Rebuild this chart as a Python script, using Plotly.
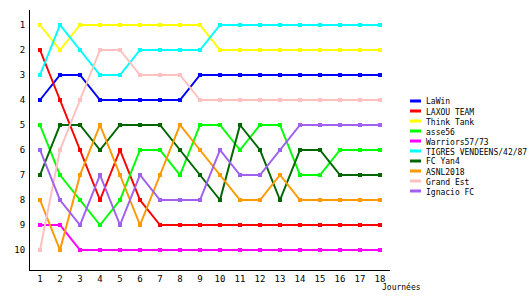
import plotly.graph_objects as go

rounds = list(range(1, 19))
teams = ["LaWin", "LAXOU TEAM", "Think Tank", "asse56", "Warriors57/73",
         "TIGRES VENDEENS/42/87", "FC Yan4", "ASNL2018", "Grand Est", "Ignacio FC"]
colors = ["#0000ff", "#ff0000", "#ffff00", "#00ff00", "#ff00ff",
          "#00ffff", "#006600", "#ff9900", "#ffc0c0", "#a060f0"]

lawin      = [4, 3, 3, 4, 4, 4, 4, 4, 3, 3, 3, 3, 3, 3, 3, 3, 3, 3]
laxou      = [2, 4, 6, 8, 6, 8, 9, 9, 9, 9, 9, 9, 9, 9, 9, 9, 9, 9]
think_tank = [1, 2, 1, 1, 1, 1, 1, 1, 1, 2, 2, 2, 2, 2, 2, 2, 2, 2]
asse56     = [5, 7, 8, 9, 8, 6, 6, 7, 5, 5, 6, 5, 5, 7, 7, 6, 6, 6]
warriors   = [9, 9, 10, 10, 10, 10, 10, 10, 10, 10, 10, 10, 10, 10, 10, 10, 10, 10]
tigres     = [3, 1, 2, 3, 3, 2, 2, 2, 2, 1, 1, 1, 1, 1, 1, 1, 1, 1]
fc_yan4    = [7, 5, 5, 6, 5, 5, 5, 6, 7, 8, 5, 6, 8, 6, 6, 7, 7, 7]
asnl2018   = [8, 10, 7, 5, 7, 9, 7, 5, 6, 7, 8, 8, 7, 8, 8, 8, 8, 8]
grand_est  = [10, 6, 4, 2, 2, 3, 3, 3, 4, 4, 4, 4, 4, 4, 4, 4, 4, 4]
ignacio    = [6, 8, 9, 7, 9, 7, 8, 8, 8, 6, 7, 7, 6, 5, 5, 5, 5, 5]

series = [lawin, laxou, think_tank, asse56, warriors, tigres, fc_yan4, asnl2018, grand_est, ignacio]
rank_ticks = list(range(1, 11))

FONT = "DejaVu Sans Mono"

fig = go.Figure()
for name, col, vals in zip(teams, colors, series):
    fig.add_trace(go.Scatter(
        x=rounds, y=vals, mode="lines+markers", name=name,
        line=dict(color=col, width=2),
        marker=dict(symbol="square", size=4, color=col),
        showlegend=False, hoverinfo="skip"))

# plot area: x 30..390 px, y 10..270 px
L, R, T, B = 30, 140, 10, 30
W, H = 530, 300
pw, ph = W - L - R, H - T - B

def px_x(px):
    return (px - L) / pw

def px_y(py):
    return (H - B - py) / ph

shapes = []
annotations = []
for i, (name, col) in enumerate(zip(teams, colors)):
    yc = 101 + 10 * i
    shapes.append(dict(type="line", xref="paper", yref="paper",
                       x0=px_x(410), x1=px_x(421), y0=px_y(yc), y1=px_y(yc),
                       line=dict(color=col, width=3)))
    annotations.append(dict(text=name, xref="paper", yref="paper",
                            x=px_x(424), y=px_y(yc + 1), xanchor="left", yanchor="middle",
                            showarrow=False, font=dict(family=FONT, size=8, color="black")))

annotations.append(dict(text="Journées", xref="paper", yref="paper",
                        x=px_x(380), y=px_y(287), xanchor="left", yanchor="middle",
                        showarrow=False, font=dict(family=FONT, size=8, color="black")))

fig.update_layout(
    width=W, height=H,
    margin=dict(l=L, r=R, t=T, b=B, pad=0),
    paper_bgcolor="white", plot_bgcolor="white",
    shapes=shapes, annotations=annotations,
    font=dict(family=FONT, size=9, color="black"),
    xaxis=dict(range=[0.5, 18.5], tickvals=rounds, showgrid=False, zeroline=False,
               showline=True, linecolor="black", linewidth=1, ticks="",
               ticklabelstandoff=0,
               tickfont=dict(family=FONT, size=9, color="black")),
    yaxis=dict(range=[10.8, 0.4], tickvals=rank_ticks, showgrid=False, zeroline=False,
               showline=True, linecolor="black", linewidth=1, ticks="",
               ticklabelstandoff=2,
               tickfont=dict(family=FONT, size=9, color="black")),
)

fig.write_html("out.html")
